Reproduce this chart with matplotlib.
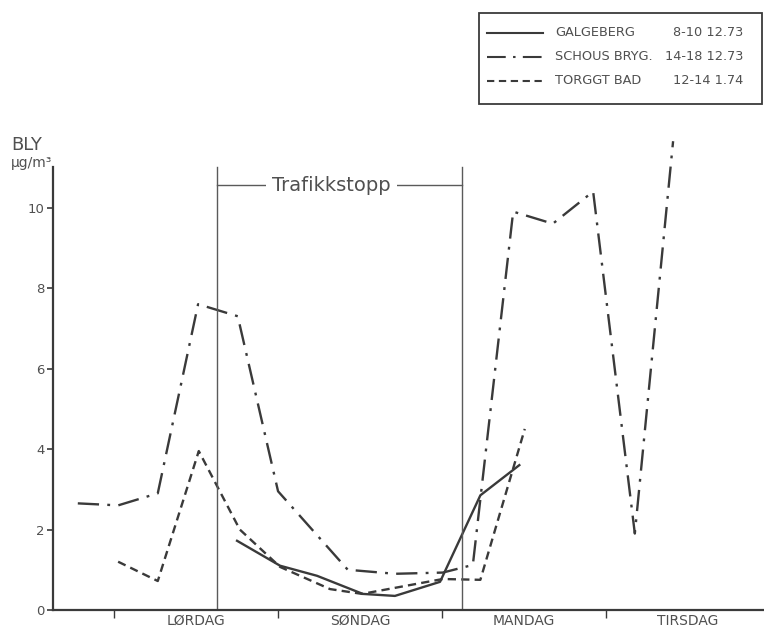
import matplotlib
matplotlib.use("Agg")
import matplotlib.pyplot as plt
from matplotlib.lines import Line2D
from matplotlib.patches import Rectangle

# hours counted from Saturday 00:00, lead in micrograms per cubic metre
schous_t = [-5.3, 0.6, 6.4, 12.3, 18.1, 24.0, 34.2, 41.1, 48.1, 52.5, 58.4, 64.2, 70.1, 76.2, 81.8]
schous_v = [2.65, 2.6, 2.9, 7.6, 7.3, 2.95, 1.0, 0.9, 0.93, 1.12, 9.9, 9.6, 10.4, 1.9, 11.65]

torggt_t = [0.6, 6.4, 12.4, 18.4, 24.3, 31.6, 36.3, 48.1, 53.6, 60.1]
torggt_v = [1.2, 0.72, 3.95, 2.0, 1.07, 0.52, 0.4, 0.77, 0.75, 4.5]

galge_t = [18.0, 24.3, 29.7, 36.4, 41.1, 47.7, 53.6, 59.3]
galge_v = [1.72, 1.1, 0.85, 0.4, 0.35, 0.7, 2.85, 3.6]

stop_start, stop_end = 15.1, 50.9
day_names = ["LØRDAG", "SØNDAG", "MANDAG", "TIRSDAG"]
day_edges = [0, 24, 48, 72]
day_mid = [12, 36, 60, 84]

series = [
    ("GALGEBERG", "8-10 12.73", galge_t, galge_v, "-"),
    ("SCHOUS BRYG.", "14-18 12.73", schous_t, schous_v, (0, (9, 3.5, 1.2, 3.5))),
    ("TORGGT BAD", "12-14 1.74", torggt_t, torggt_v, (0, (3.5, 2.2))),
]

ink = "#3a3a3a"
txt = "#505050"

W, H = 764, 631
fig = plt.figure(figsize=(W / 100, H / 100), dpi=100)
y0_px, ytop_px = 610, 107
ax = fig.add_axes([53 / W, 1 - y0_px / H, (W - 53) / W, (y0_px - ytop_px) / H])

for name, date, t, v, ls in series:
    ax.plot(t, v, color=ink, lw=1.7, linestyle=ls)

# traffic stop period
for xv in (stop_start, stop_end):
    ax.plot([xv, xv], [0, 11], color="#5a5a5a", lw=1.0)
ax.plot([stop_start, stop_end], [10.55, 10.55], color="#5a5a5a", lw=1.0)
ax.text(31.8, 10.55, "Trafikkstopp", ha="center", va="center",
        fontsize=14, color=txt,
        bbox=dict(boxstyle="square,pad=0.3", fc="white", ec="none"))

ax.set_xlim(-8.93, 95.1)
ax.set_ylim(0, 12.5)
for s in ("top", "right"):
    ax.spines[s].set_visible(False)
ax.spines["left"].set_bounds(0, 11)
for s in ("left", "bottom"):
    ax.spines[s].set_color(ink)
    ax.spines[s].set_linewidth(1.6)

ax.set_yticks([0, 2, 4, 6, 8, 10])
ax.tick_params(axis="y", length=4, width=1.2, color=ink, labelsize=9.5, labelcolor=txt, pad=2)
ax.set_xticks(day_edges)
ax.set_xticklabels([])
ax.tick_params(axis="x", which="major", length=6, width=1.0, color=ink)
ax.set_xticks(day_mid, minor=True)
ax.set_xticklabels(day_names, minor=True)
ax.tick_params(axis="x", which="minor", length=0, labelsize=10, labelcolor=txt, pad=3)

fig.text(11 / W, 1 - 150 / H, "BLY", fontsize=13, color=txt, va="baseline")
fig.text(11 / W, 1 - 167 / H, "µg/m³", fontsize=10, color=txt, va="baseline")

# legend box
fig.add_artist(Rectangle((479 / W, 1 - 104 / H), (762 - 479) / W, (104 - 13) / H,
                         transform=fig.transFigure, fill=False, ec=ink, lw=1.3))
for i, (name, date, t, v, ls) in enumerate(series):
    yy = 1 - (33 + 24 * i) / H
    fig.add_artist(Line2D([487 / W, 543 / W], [yy, yy], transform=fig.transFigure,
                          color=ink, lw=1.5, linestyle=ls))
    fig.text(555 / W, yy, name, fontsize=9.3, color=txt, va="center")
    fig.text(743 / W, yy, date, fontsize=9.3, color=txt, va="center", ha="right")

fig.savefig("out.png", dpi=100)
